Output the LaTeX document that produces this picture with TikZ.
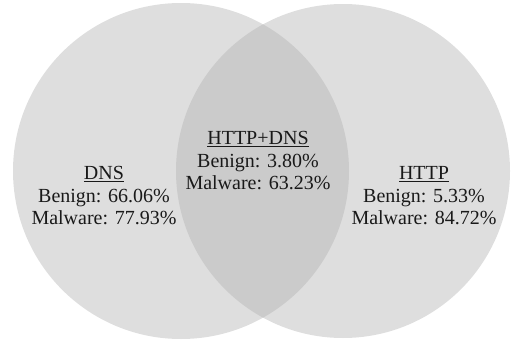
\documentclass[tikz,border=0pt]{standalone}
\usepackage{fontspec}
\setmainfont{Liberation Serif}
\usetikzlibrary{positioning}

\definecolor{setgray}{RGB}{222,222,222}
\definecolor{overlapgray}{RGB}{203,203,203}

\tikzset{
	setlabel/.style={align=center, font=\fontsize{20}{22.5}\selectfont, text=black!90, inner sep=0pt}
}

\begin{document}
\begin{tikzpicture}[x=1pt, y=-1pt]
		\useasboundingbox (0,0) rectangle (511,343);

		% Draw the two sets
		\fill[setgray] (181,171) circle (168);
		\fill[setgray] (343,171) circle (167);

		% Draw the overlap
		\begin{scope}
			\clip (181,171) circle (168);
			\fill[overlapgray] (343,171) circle (167);
		\end{scope}

		% Labels of the sets
		\node[setlabel] (dns) at (104,196) {\underline{DNS}\\Benign: 66.06\%\\Malware: 77.93\%};
		\node[setlabel] (both) at (258,161) {\underline{HTTP+DNS}\\Benign: 3.80\%\\Malware: 63.23\%};
		\node[setlabel] (http) at (424,196) {\underline{HTTP}\\Benign: 5.33\%\\Malware: 84.72\%};

	\end{tikzpicture}
\end{document}
